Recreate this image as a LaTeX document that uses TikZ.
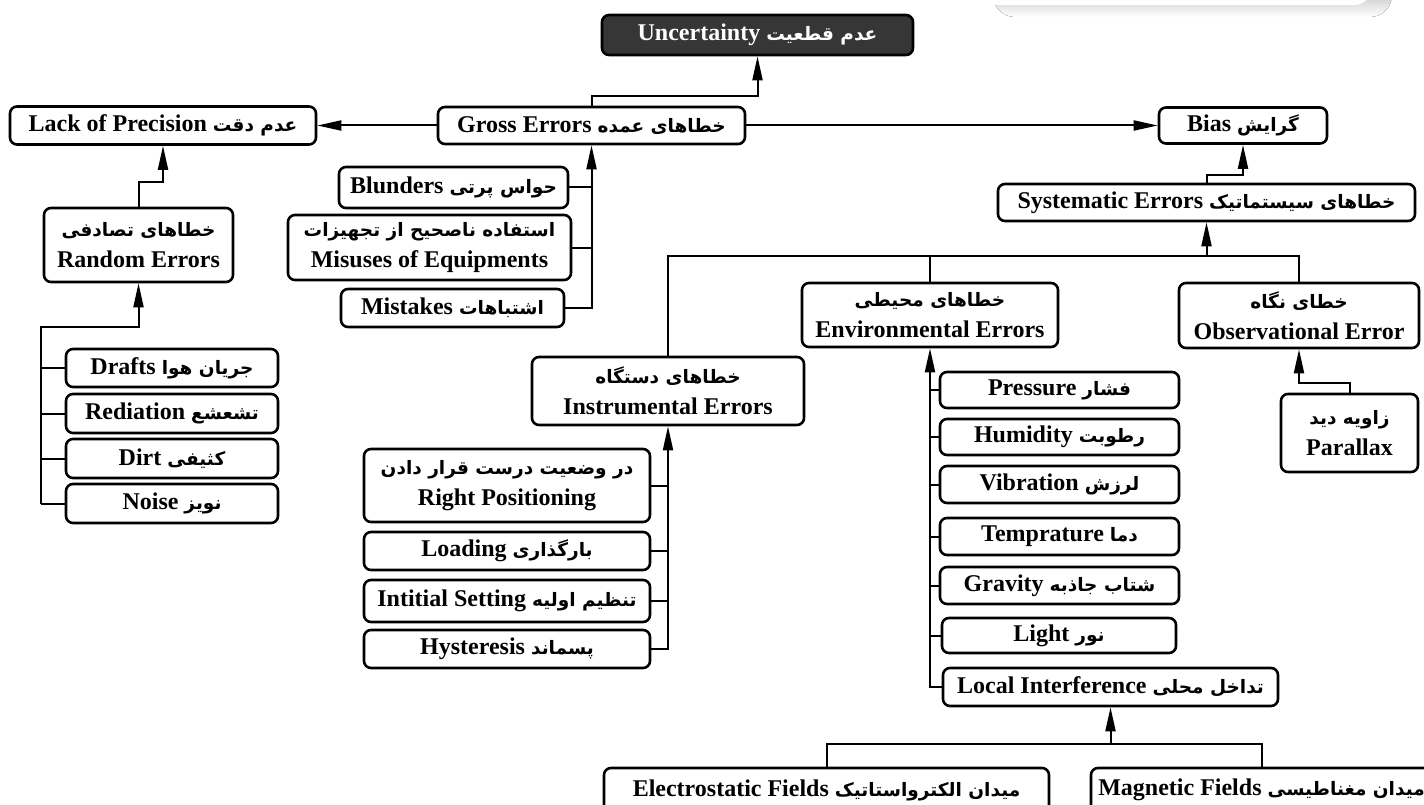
\documentclass[tikz,border=0pt]{standalone}
\usepackage{fontspec}
\setmainfont{Liberation Serif}
\newfontfamily\farsi[Script=Arabic]{DejaVu Sans}
\TeXXeTstate=1
\usetikzlibrary{arrows.meta,calc}
\definecolor{darkbox}{RGB}{54,54,54}
\definecolor{shade}{RGB}{128,128,128}
\newcommand{\pers}[1]{{\farsi\fontsize{18.5}{31}\selectfont\beginR #1\endR}}
\tikzset{
  box/.style={draw,line width=2.6pt,rounded corners=7pt,fill=white,align=center,inner sep=0pt,
    font=\bfseries\fontsize{24}{31}\selectfont},
  arr/.style={line width=2pt,-{Triangle[length=24pt,width=10pt]}},
  link/.style={line width=2pt}
}

\begin{document}
\begin{tikzpicture}[x=1pt,y=-1pt]
  \fill[white] (0,0) rectangle (1424,805);
  \clip (0,0) rectangle (1424,805);
  % shadowed frame, top right
  \fill[shade,rounded corners=22pt] (993,-40) rectangle (1392,17);
  \fill[white,rounded corners=18pt] (975,-40) rectangle (1372,5);

  % top row
  \node[box,fill=darkbox,text=white,minimum width=311pt,minimum height=40pt] (unc) at (757.5,35) {Uncertainty \pers{عدم قطعیت}};
  \node[box,minimum width=307pt,minimum height=37pt] (gross) at (591.5,125.5) {Gross Errors \pers{خطاهای عمده}};
  \node[box,minimum width=306pt,minimum height=38pt] (lack) at (163,125.5) {Lack of Precision \pers{عدم دقت}};
  \node[box,minimum width=168pt,minimum height=36pt] (bias) at (1243,125.5) {Bias \pers{گرایش}};
  \node[box,minimum width=417pt,minimum height=37pt] (syst) at (1206.5,202.5) {Systematic Errors \pers{خطاهای سیستماتیک}};

  \draw[arr] (gross.north) -- ++(0,-10) -| (unc.south);
  \draw[arr] (gross.west) -- (lack.east);
  \draw[arr] (gross.east) -- (bias.west);
  \draw[arr] (syst.north) -- ++(0,-8) -| (bias.south);

  % gross errors
  \node[box,minimum width=229pt,minimum height=41pt] (blund) at (453.5,187.5) {Blunders \pers{حواس پرتی}};
  \node[box,minimum width=283pt,minimum height=65pt] (misuse) at (429.5,247.5) {\pers{استفاده ناصحیح از تجهیزات}\\Misuses of Equipments};
  \node[box,minimum width=223pt,minimum height=38pt] (mist) at (452.5,308) {Mistakes \pers{اشتباهات}};
  \draw[arr] (mist.east) -| (gross.south);
  \draw[link] (blund.east) -- (blund.east -| gross.south);
  \draw[link] (misuse.east) -- (misuse.east -| gross.south);

  % random errors
  \node[box,minimum width=189pt,minimum height=74pt] (random) at (138.5,245) {\pers{خطاهای تصادفی}\\Random Errors};
  \draw[arr] (random.north) -- ++(0,-25) -| (lack.south);
  \coordinate (rbus) at (41,327);
  \foreach \nm/\yy/\hh/\en/\fatext in {drafts/368/38/Drafts/جریان هوا,rediation/413.5/39/Rediation/تشعشع,dirt/458.5/39/Dirt/کثیفی,noise/503.5/39/Noise/نویز}{
    \node[box,minimum width=212pt,minimum height=\hh pt] (\nm) at (172,\yy) {\en\ \pers{\fatext}};
    \draw[link] (\nm.west) -- (\nm.west -| rbus);
  }
  \draw[arr] (noise.west -| rbus) -- (rbus) -| (random.south);

  % systematic errors
  \node[box,minimum width=272pt,minimum height=68pt] (instr) at (668,391) {\pers{خطاهای دستگاه}\\Instrumental Errors};
  \node[box,minimum width=256pt,minimum height=64pt] (envir) at (930,315) {\pers{خطاهای محیطی}\\Environmental Errors};
  \node[box,minimum width=240pt,minimum height=65pt] (observ) at (1299,315.5) {\pers{خطای نگاه}\\Observational Error};
  \node[box,minimum width=137pt,minimum height=78pt] (parallax) at (1349.5,433) {\pers{زاویه دید}\\Parallax};
  \coordinate (sbus) at (1206.5,256);
  \draw[arr] (sbus) -- (syst.south);
  \draw[link] (instr.north) |- (sbus);
  \draw[link] (observ.north) |- (sbus);
  \draw[link] (envir.north) -- (envir.north |- sbus);
  \draw[arr] (parallax.north) -- ++(0,-10) -| (observ.south);

  % instrumental errors
  \node[box,minimum width=286pt,minimum height=73pt] (rightpos) at (507,485.5) {\pers{در وضعیت درست قرار دادن}\\Right Positioning};
  \foreach \nm/\yy/\hh/\en/\fatext in {loading/551/38/Loading/بارگذاری,initset/601/42/Intitial Setting/تنظیم اولیه,hyster/649/38/Hysteresis/پسماند}{
    \node[box,minimum width=286pt,minimum height=\hh pt] (\nm) at (507,\yy) {\en\ \pers{\fatext}};
  }
  \draw[arr] (hyster.east) -| (instr.south);
  \foreach \nm in {rightpos,loading,initset}
    \draw[link] (\nm.east) -- (\nm.east -| instr.south);

  % environmental errors
  \foreach \nm/\yy/\hh/\en/\fatext in {pressure/390/36/Pressure/فشار,humid/437/36/Humidity/رطوبت,vibr/484.5/37/Vibration/لرزش,temp/536.5/37/Temprature/دما,grav/585.5/37/Gravity/شتاب جاذبه}{
    \node[box,minimum width=239pt,minimum height=\hh pt] (\nm) at (1059.5,\yy) {\en\ \pers{\fatext}};
    \draw[link] (\nm.west) -- (\nm.west -| envir.south);
  }
  \node[box,minimum width=234pt,minimum height=35pt] (light) at (1059,635.5) {Light \pers{نور}};
  \draw[link] (light.west) -- (light.west -| envir.south);
  \node[box,minimum width=335pt,minimum height=38pt] (local) at (1110.5,687) {Local Interference \pers{تداخل محلی}};
  \draw[arr] (local.west) -| (envir.south);

  % local interference
  \node[box,minimum width=445pt,minimum height=44pt] (electro) at (826.5,790) {Electrostatic Fields \pers{میدان الکترواستاتیک}};
  \node[box,minimum width=341pt,minimum height=44pt] (magnet) at (1261.5,790) {Magnetic Fields \pers{میدان مغناطیسی}};
  \coordinate (lbus) at (1110.5,744);
  \draw[arr] (lbus) -- (local.south);
  \draw[link] (electro.north) |- (lbus);
  \draw[link] (magnet.north) |- (lbus);
\end{tikzpicture}
\end{document}
